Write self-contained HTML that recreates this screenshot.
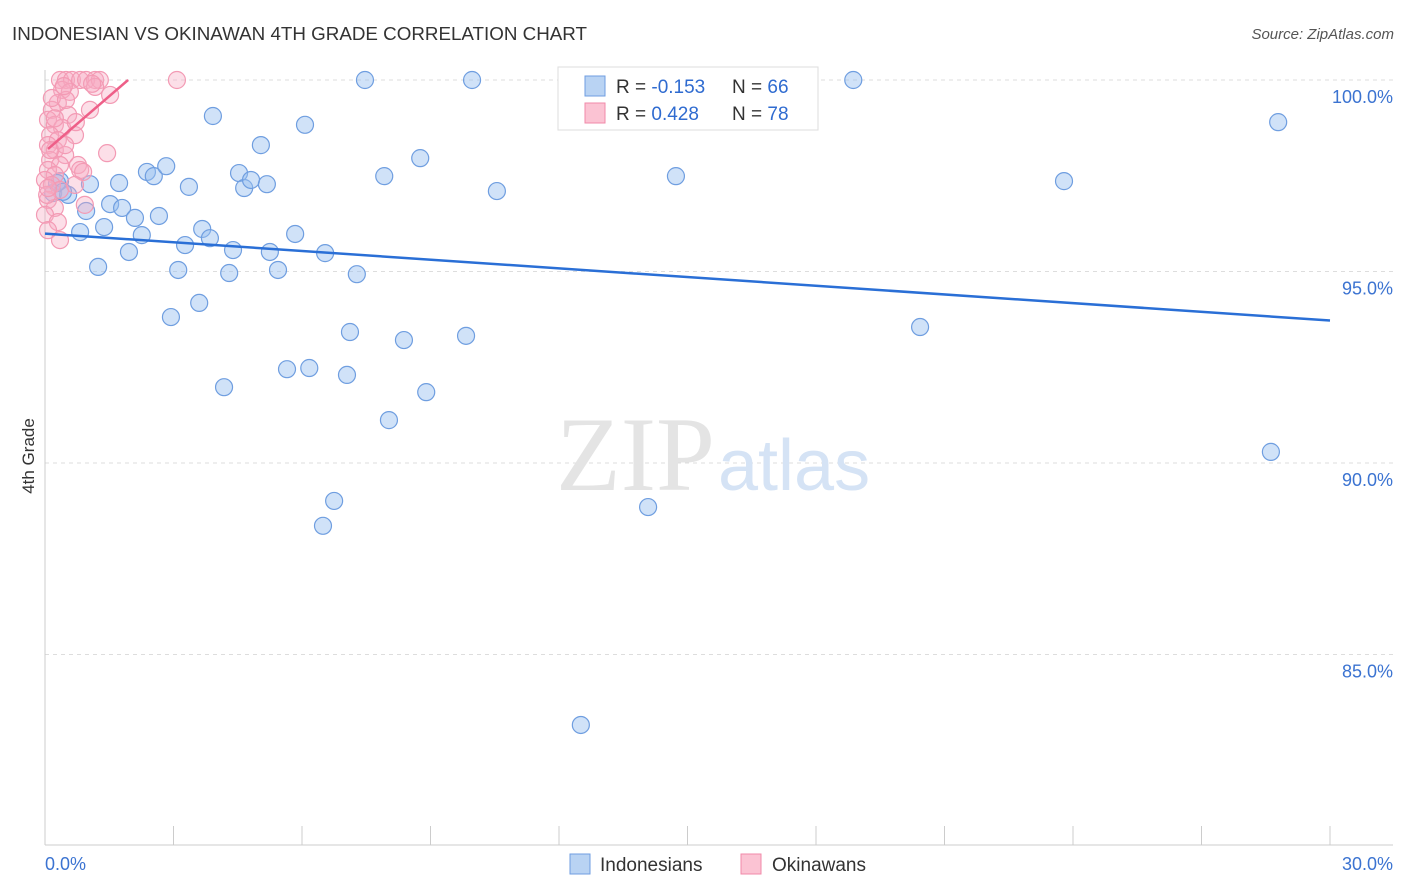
<!DOCTYPE html>
<html><head><meta charset="utf-8"><style>
body{margin:0;background:#fff;font-family:"Liberation Sans",sans-serif;}
svg{display:block}
</style></head><body>
<svg width="1406" height="892">
<text x="12" y="40" font-size="18.8" fill="#333">INDONESIAN VS OKINAWAN 4TH GRADE CORRELATION CHART</text>
<text x="1394" y="39" font-size="15" fill="#555" font-style="italic" text-anchor="end">Source: ZipAtlas.com</text>
<text x="34" y="456" font-size="17" fill="#333" transform="rotate(-90 34 456)" text-anchor="middle">4th Grade</text>
<g id="grid"></g>
<text x="715" y="490" font-size="106" fill="#e4e4e4" font-family="Liberation Serif,serif" text-anchor="end">ZIP</text>
<text x="718" y="490" font-size="72" fill="#d5e3f5">atlas</text>
<g id="pts"></g>
<g id="lines"></g>
<g>
<rect x="558" y="67" width="260" height="63" fill="#fff" stroke="#ddd"/>
<rect x="585" y="76" width="20" height="20" fill="#b9d3f3" stroke="#6f9ee0"/>
<rect x="585" y="103" width="20" height="20" fill="#fbc3d3" stroke="#f08aa8"/>
<text x="616" y="93" font-size="19" fill="#333">R = <tspan fill="#2f6bd0">-0.153</tspan></text>
<text x="732" y="93" font-size="19" fill="#333">N = <tspan fill="#2f6bd0">66</tspan></text>
<text x="616" y="120" font-size="19" fill="#333">R = <tspan fill="#2f6bd0"> 0.428</tspan></text>
<text x="732" y="120" font-size="19" fill="#333">N = <tspan fill="#2f6bd0">78</tspan></text>
</g>
<g>
<rect x="570" y="854" width="20" height="20" fill="#b9d3f3" stroke="#6f9ee0"/>
<text x="600" y="871" font-size="19" fill="#333">Indonesians</text>
<rect x="741" y="854" width="20" height="20" fill="#fbc3d3" stroke="#f08aa8"/>
<text x="772" y="871" font-size="19" fill="#333">Okinawans</text>
</g>
<text x="45" y="870" font-size="18" fill="#3b73d1">0.0%</text>
<text x="1393" y="870" font-size="18" fill="#3b73d1" text-anchor="end">30.0%</text>
</svg>
<script>
const yTicks=[100,95,90,85];
const yTickLabels=["100.0%","95.0%","90.0%","85.0%"];
const blueX=[0.35,0.19,0.54,1.05,0.82,0.96,1.73,1.52,1.80,1.38,2.10,1.24,1.96,2.26,2.38,2.54,2.83,2.66,3.36,3.92,2.94,3.11,3.60,3.27,3.67,3.85,4.18,4.30,4.39,4.53,4.65,4.81,5.04,5.18,5.25,5.44,5.65,5.84,6.07,6.17,6.54,6.49,6.75,7.05,7.12,7.28,7.47,7.92,8.03,8.38,8.76,8.90,9.83,9.97,10.55,12.51,12.82,14.08,14.73,18.87,20.43,23.79,28.62,28.79,0.28,0.42];
const blueY=[97.36,97.05,97.0,97.28,96.03,96.58,97.31,96.76,96.66,96.16,96.40,95.12,95.51,95.95,97.60,97.49,97.75,96.45,97.21,99.06,93.81,95.04,94.18,95.69,96.11,95.87,91.98,94.96,95.56,97.57,97.18,97.39,98.30,97.28,95.51,95.04,92.45,95.98,98.83,92.48,95.48,88.36,89.01,92.30,93.42,94.93,100,97.49,91.12,93.21,97.96,91.85,93.32,100,97.10,83.16,100,88.85,97.49,100,93.55,97.36,90.29,98.90,97.31,97.08];
const pinkX=[0.35,0.49,0.63,0.82,0.96,1.17,1.28,3.08,0.40,0.58,1.17,1.52,0.30,0.16,0.54,0.07,0.23,0.40,0.12,0.30,0.70,0.07,0.23,0.47,0.12,0.35,0.77,0.07,0.23,0,0.16,0.35,0.82,1.45,0.07,0.23,0,0.30,0.07,0.35,0.93,0.05,0.16,1.05,0.49,0.89,0.70,0.72,0.12,0.44,1.10,0.23,0.07,0.47];
const pinkY=[100,100,100,100,100,100,100,100,99.74,99.69,99.82,99.61,99.40,99.22,99.09,98.96,98.83,98.75,98.56,98.43,98.56,98.30,98.17,98.04,97.91,97.78,97.78,97.65,97.52,97.39,97.26,97.13,97.65,98.09,96.87,96.66,96.48,96.29,96.08,95.82,96.74,97.0,99.53,99.22,99.48,97.60,97.26,98.90,98.17,99.84,99.9,99.0,97.18,98.30];
const blueTrend=[[0,95.99],[30,93.72]];
const pinkTrend=[[0.07,98.2],[1.94,100]];
const X=v=>45+v/30*1285, Y=v=>80+(100-v)*38.3;
const NS="http://www.w3.org/2000/svg";
const grid=document.getElementById('grid');
function mk(tag,attrs,parent){const e=document.createElementNS(NS,tag);for(const k in attrs)e.setAttribute(k,attrs[k]);parent.appendChild(e);return e;}
yTicks.forEach((t,i)=>{
 const l=mk('line',{x1:45,x2:1393,y1:Y(t),y2:Y(t),stroke:'#ddd','stroke-dasharray':'4,4'},grid);
 
 
 const tx=mk('text',{x:1393,y:Y(t)+23,'font-size':18,fill:'#3b73d1','text-anchor':'end'},grid);
 tx.textContent=yTickLabels[i];
 
 
});
const ax=mk('line',{x1:45,x2:1393,y1:845,y2:845,stroke:'#ccc'},grid);


const ay=mk('line',{x1:45,x2:45,y1:70,y2:845,stroke:'#ccc'},grid);


for(let i=0;i<=10;i++){const t=mk('line',{x1:X(i*3),x2:X(i*3),y1:826,y2:845,stroke:'#ccc'},grid);
 
 }
const pts=document.getElementById('pts');
blueX.forEach((x,i)=>{const c=mk('circle',{cx:X(x),cy:Y(blueY[i]),r:8.5,fill:'rgba(150,190,240,0.45)',stroke:'#6f9ee0','stroke-width':1.2},pts);
 
 });
pinkX.forEach((x,i)=>{const c=mk('circle',{cx:X(x),cy:Y(pinkY[i]),r:8.5,fill:'rgba(248,170,195,0.38)',stroke:'#f39ab4','stroke-width':1.2},pts);
 
 });
const lines=document.getElementById('lines');
const b=mk('line',{x1:X(blueTrend[0][0]),y1:Y(blueTrend[0][1]),x2:X(blueTrend[1][0]),y2:Y(blueTrend[1][1]),stroke:'#2a6fd6','stroke-width':2.5},lines);


const p=mk('line',{x1:X(pinkTrend[0][0]),y1:Y(pinkTrend[0][1]),x2:X(pinkTrend[1][0]),y2:Y(pinkTrend[1][1]),stroke:'#ee5f88','stroke-width':2.5},lines);


</script>
</body></html>
